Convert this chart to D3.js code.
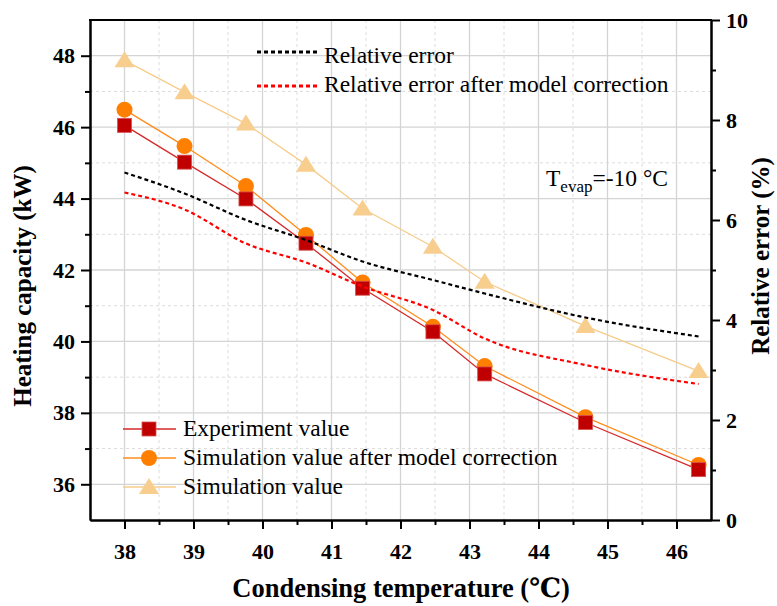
<!DOCTYPE html>
<html lang="en">
  <head>
    <meta charset="UTF-8" />
    <title>Heating capacity vs condensing temperature</title>
    <style>
      body {
        margin: 0;
        padding: 0;
        background-color: #ffffff;
      }
      svg text {
        font-family: "Liberation Serif", "DejaVu Serif", serif;
        fill: #000;
      }
      .axis path,
      .axis line {
        stroke: #000;
        stroke-width: 2;
      }
      .axis text {
        font-size: 22px;
        font-weight: bold;
        font-family: "Liberation Serif", "DejaVu Serif", serif;
      }
      .title {
        font-size: 25px;
        font-weight: bold;
      }
      .legend {
        font-size: 23.5px;
      }
    </style>
  </head>
  <body>
    <svg id="chart" width="777" height="606"></svg>

    <script src="https://d3js.org/d3.v7.min.js"></script>
    <script>
      // condensing temperature (°C)
      const temps = [38, 38.87, 39.76, 40.63, 41.45, 42.47, 43.22, 44.68, 46.32];
      // heating capacity (kW)
      const experiment = [46.05, 45.02, 43.99, 42.75, 41.49, 40.27, 39.09, 37.73, 36.41];
      const simCorrected = [46.49, 45.47, 44.35, 42.98, 41.65, 40.41, 39.31, 37.88, 36.54];
      const simulation = [47.87, 46.98, 46.1, 44.95, 43.72, 42.65, 41.67, 40.43, 39.17];
      // relative error (%)
      const relError = [6.95, 6.53, 6.0, 5.6, 5.17, 4.8, 4.53, 4.05, 3.67];
      const relErrorCorrected = [6.55, 6.21, 5.53, 5.15, 4.67, 4.2, 3.63, 3.1, 2.72];

      const xTicks = [38, 39, 40, 41, 42, 43, 44, 45, 46];
      const yLeftTicks = [36, 38, 40, 42, 44, 46, 48];
      const yRightTicks = [0, 2, 4, 6, 8, 10];

      const svg = d3.select("#chart");
      const pLeft = 90, pRight = 711, pTop = 20, pBottom = 520;

      const x = d3.scaleLinear().domain([37.5, 46.5]).range([pLeft, pRight]);
      const yL = d3.scaleLinear().domain([35, 49]).range([pBottom, pTop]);
      const yR = d3.scaleLinear().domain([0, 10]).range([pBottom, pTop]);

      const xMinor = d3.range(38.5, 46.5, 1);
      const yMinor = d3.range(37, 49, 2);

      // grid
      const grid = svg.append("g");
      grid.selectAll("line.xmin").data(xMinor).enter().append("line")
        .attr("x1", (d) => x(d)).attr("x2", (d) => x(d))
        .attr("y1", pTop).attr("y2", pBottom)
        .attr("stroke", "#dcdcdc").attr("stroke-dasharray", "3,3");
      grid.selectAll("line.ymin").data(yMinor).enter().append("line")
        .attr("x1", pLeft).attr("x2", pRight)
        .attr("y1", (d) => yL(d)).attr("y2", (d) => yL(d))
        .attr("stroke", "#dcdcdc").attr("stroke-dasharray", "3,3");
      grid.selectAll("line.xmaj").data(xTicks).enter().append("line")
        .attr("x1", (d) => x(d)).attr("x2", (d) => x(d))
        .attr("y1", pTop).attr("y2", pBottom)
        .attr("stroke", "#d4d4d4").attr("stroke-width", 1.3);
      grid.selectAll("line.ymaj").data(yLeftTicks).enter().append("line")
        .attr("x1", pLeft).attr("x2", pRight)
        .attr("y1", (d) => yL(d)).attr("y2", (d) => yL(d))
        .attr("stroke", "#d4d4d4").attr("stroke-width", 1.3);

      // series with markers
      const series = [
        { name: "Experiment value", values: experiment, line: "#d42a2a", fill: "#c00000", shape: "square" },
        { name: "Simulation value after model correction", values: simCorrected, line: "#ff8c1a", fill: "#ff8000", shape: "circle" },
        { name: "Simulation value", values: simulation, line: "#f7cc8a", fill: "#f7ce8e", shape: "triangle" },
      ];

      const lineL = d3.line().x((d) => x(d[0])).y((d) => yL(d[1]));

      function marker(g, shape, fill, cx, cy) {
        if (shape === "square") {
          g.append("rect").attr("x", cx - 7).attr("y", cy - 7)
            .attr("width", 14).attr("height", 14)
            .attr("fill", fill).attr("stroke", "#d85050").attr("stroke-width", 0.8);
        } else if (shape === "circle") {
          g.append("circle").attr("cx", cx).attr("cy", cy).attr("r", 8).attr("fill", fill);
        } else {
          g.append("path")
            .attr("d", `M${cx},${cy - 9}L${cx + 10},${cy + 7}L${cx - 10},${cy + 7}Z`)
            .attr("fill", fill);
        }
      }

      series.slice().reverse().forEach((s) => {
        const pts = temps.map((t, i) => [t, s.values[i]]);
        svg.append("path").datum(pts).attr("d", lineL)
          .attr("fill", "none").attr("stroke", s.line).attr("stroke-width", 1.3);
        const g = svg.append("g");
        pts.forEach((p) => marker(g, s.shape, s.fill, x(p[0]), yL(p[1])));
      });

      // relative error lines (right axis)
      const lineR = d3.line().curve(d3.curveMonotoneX).x((d) => x(d[0])).y((d) => yR(d[1]));
      const errSeries = [
        { name: "Relative error", values: relError, color: "#000000" },
        { name: "Relative error after model correction", values: relErrorCorrected, color: "#ff0000" },
      ];
      errSeries.forEach((s) => {
        svg.append("path").datum(temps.map((t, i) => [t, s.values[i]]))
          .attr("d", lineR).attr("fill", "none")
          .attr("stroke", s.color).attr("stroke-width", 2.2)
          .attr("stroke-dasharray", "4,3");
      });

      // axes
      svg.append("g").attr("class", "axis")
        .attr("transform", `translate(0,${pBottom})`)
        .call(d3.axisBottom(x).tickValues(xMinor).tickSize(5).tickSizeOuter(0).tickFormat(""));
      svg.append("g").attr("class", "axis")
        .attr("transform", `translate(0,${pBottom})`)
        .call(d3.axisBottom(x).tickValues(xTicks).tickSize(9).tickSizeOuter(0).tickPadding(10))
        .selectAll("text").attr("dy", "0.9em");

      svg.append("g").attr("class", "axis")
        .attr("transform", `translate(${pLeft},0)`)
        .call(d3.axisLeft(yL).tickValues(yMinor).tickSize(5).tickSizeOuter(0).tickFormat(""));
      svg.append("g").attr("class", "axis")
        .attr("transform", `translate(${pLeft},0)`)
        .call(d3.axisLeft(yL).tickValues(yLeftTicks).tickSize(9).tickSizeOuter(0).tickPadding(6));

      svg.append("g").attr("class", "axis")
        .attr("transform", `translate(${pRight},0)`)
        .call(d3.axisRight(yR).tickValues([1, 3, 5, 7, 9]).tickSize(5).tickSizeOuter(0).tickFormat(""));
      svg.append("g").attr("class", "axis")
        .attr("transform", `translate(${pRight},0)`)
        .call(d3.axisRight(yR).tickValues(yRightTicks).tickSize(9).tickSizeOuter(0).tickPadding(6));

      svg.append("line").attr("x1", pLeft - 1).attr("x2", pRight + 1)
        .attr("y1", pTop).attr("y2", pTop)
        .attr("stroke", "#000").attr("stroke-width", 2);

      // axis titles
      svg.append("text").attr("class", "title")
        .attr("x", 401).attr("y", 597)
        .attr("text-anchor", "middle")
        .style("font-size", "26.5px")
        .text("Condensing temperature (℃)");
      svg.append("text").attr("class", "title")
        .attr("transform", `translate(31,286) rotate(-90)`)
        .attr("text-anchor", "middle")
        .text("Heating capacity (kW)");
      svg.append("text").attr("class", "title")
        .attr("transform", `translate(769,256) rotate(-90)`)
        .attr("text-anchor", "middle")
        .text("Relative error (%)");

      // top legend (relative error)
      errSeries.forEach((s, i) => {
        svg.append("line").attr("x1", 257).attr("x2", 318)
          .attr("y1", 52 + i * 34).attr("y2", 52 + i * 34)
          .attr("stroke", s.color).attr("stroke-width", 3)
          .attr("stroke-dasharray", "4,3");
        svg.append("text").attr("class", "legend")
          .attr("x", 324).attr("y", 63 + i * 29).text(s.name);
      });

      // bottom legend
      series.forEach((s, i) => {
        const ly = 429 + i * 29;
        svg.append("line").attr("x1", 123).attr("x2", 176)
          .attr("y1", ly).attr("y2", ly)
          .attr("stroke", s.line).attr("stroke-width", 1.3);
        marker(svg, s.shape, s.fill, 149, ly);
        svg.append("text").attr("class", "legend")
          .attr("x", 183).attr("y", ly + 7).text(s.name);
      });

      // annotation
      const ann = svg.append("text").attr("class", "legend")
        .attr("x", 546).attr("y", 186);
      ann.append("tspan").text("T");
      ann.append("tspan").attr("dy", 6).style("font-size", "17px").text("evap");
      ann.append("tspan").attr("dy", -6).text("=-10 °C");
    </script>
  </body>
</html>
